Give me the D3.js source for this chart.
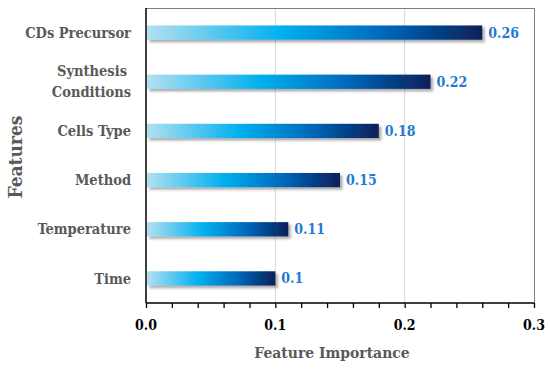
<!DOCTYPE html>
<html>
<head>
<meta charset="utf-8">
<script src="https://cdn.jsdelivr.net/npm/d3@7"></script>
<style>
  body { margin: 0; background: #fff; }
  text { font-family: "Palatino Linotype", "Book Antiqua", Palatino, "DejaVu Serif Condensed", "DejaVu Serif", serif; font-weight: bold; }
</style>
</head>
<body>
<div id="chart"></div>
<script>
// Data
var features = ["CDs Precursor", "Synthesis Conditions", "Cells Type", "Method", "Temperature", "Time"];
var importance = [0.26, 0.22, 0.18, 0.15, 0.11, 0.1];
var valueLabels = ["0.26", "0.22", "0.18", "0.15", "0.11", "0.1"];
var xTicks = [0, 0.1, 0.2, 0.3];
var xTickLabels = ["0.0", "0.1", "0.2", "0.3"];

var width = 550, height = 371;
var margin = {top: 8, right: 16, bottom: 68, left: 146};

var svg = d3.select("#chart")
  .append("svg")
  .attr("width", width)
  .attr("height", height);

var defs = svg.append("defs");

// Bar gradient, light cyan to navy
var grad = defs.append("linearGradient")
  .attr("id", "barGrad")
  .attr("x1", "0%").attr("x2", "100%")
  .attr("y1", "0%").attr("y2", "0%");
grad.append("stop").attr("offset", "0%").attr("stop-color", "#b3e0f0");
grad.append("stop").attr("offset", "40%").attr("stop-color", "#00b0f0");
grad.append("stop").attr("offset", "72%").attr("stop-color", "#0065b8");
grad.append("stop").attr("offset", "100%").attr("stop-color", "#0a1f58");

// Drop shadow
var filt = defs.append("filter")
  .attr("id", "shadow")
  .attr("x", "-10%").attr("y", "-40%")
  .attr("width", "130%").attr("height", "200%");
filt.append("feDropShadow")
  .attr("dx", 2.5).attr("dy", 2.5)
  .attr("stdDeviation", 1.3)
  .attr("flood-color", "#333")
  .attr("flood-opacity", 0.4);

var x = d3.scaleLinear()
  .domain([0, 0.3])
  .range([margin.left, width - margin.right]);

var y = d3.scaleBand()
  .domain(features)
  .range([margin.top, height - margin.bottom])
  .paddingInner(0.71)
  .paddingOuter(0.355);

// Grid lines
svg.append("g")
  .selectAll("line")
  .data([0.1, 0.2])
  .enter()
  .append("line")
  .attr("x1", function(d) { return x(d); })
  .attr("x2", function(d) { return x(d); })
  .attr("y1", margin.top)
  .attr("y2", height - margin.bottom)
  .attr("stroke", "#d9d9d9")
  .attr("stroke-width", 1);

// Top and right border (grey)
svg.append("path")
  .attr("d", "M" + x(0) + "," + (margin.top + 0.5) + "H" + (x(0.3) + 0.5) + "V" + (height - margin.bottom))
  .attr("fill", "none")
  .attr("stroke", "#7f7f7f")
  .attr("stroke-width", 1);

// Bars
svg.append("g")
  .selectAll("rect")
  .data(features)
  .enter()
  .append("rect")
  .attr("x", x(0) + 1)
  .attr("y", function(d) { return y(d); })
  .attr("width", function(d, i) { return x(importance[i]) - x(0) - 1; })
  .attr("height", y.bandwidth())
  .attr("fill", "url(#barGrad)")
  .attr("filter", "url(#shadow)");

// Value labels
svg.append("g")
  .selectAll("text")
  .data(features)
  .enter()
  .append("text")
  .attr("x", function(d, i) { return x(importance[i]) + 6; })
  .attr("y", function(d) { return y(d) + y.bandwidth() / 2; })
  .attr("dy", "0.36em")
  .attr("fill", "#1f7ad2")
  .attr("font-size", 14)
  .text(function(d, i) { return valueLabels[i]; });

// X axis with minor ticks
var xAxis = svg.append("g")
  .attr("transform", "translate(0," + (height - margin.bottom) + ")")
  .call(d3.axisBottom(x).tickValues(d3.range(0, 0.3001, 0.02)).tickSize(5).tickFormat(""));
xAxis.select(".domain").attr("stroke", "#000").attr("stroke-width", 1.5)
  .attr("d", "M" + x(0) + ",0H" + x(0.3));
xAxis.selectAll(".tick line").attr("stroke", "#000").attr("stroke-width", 1.3);

svg.append("g")
  .selectAll("text")
  .data(xTicks)
  .enter()
  .append("text")
  .attr("x", function(d) { return x(d); })
  .attr("y", height - margin.bottom + 22)
  .attr("dy", "0.35em")
  .attr("text-anchor", "middle")
  .attr("fill", "#000")
  .attr("font-size", 14)
  .text(function(d, i) { return xTickLabels[i]; });

// Y axis line
svg.append("line")
  .attr("x1", x(0)).attr("x2", x(0))
  .attr("y1", margin.top)
  .attr("y2", height - margin.bottom)
  .attr("stroke", "#000")
  .attr("stroke-width", 1.5);

// Category labels (wrap the long one)
var catLines = {"Synthesis Conditions": ["Synthesis", "Conditions"]};
var cats = svg.append("g")
  .selectAll("text")
  .data(features)
  .enter()
  .append("text")
  .attr("text-anchor", "end")
  .attr("fill", "#595959")
  .attr("font-size", 14.5);
cats.each(function(d) {
  var t = d3.select(this);
  var cy = y(d) + y.bandwidth() / 2;
  var lines = catLines[d] || [d];
  var lh = 21;
  lines.forEach(function(s, k) {
    t.append("tspan")
      .attr("x", x(0) - 15 - (lines.length > 1 && k == 0 ? 4 : 0))
      .attr("y", cy + (k - (lines.length - 1) / 2) * lh)
      .attr("dy", "0.36em")
      .text(s);
  });
});

// Axis titles
svg.append("text")
  .attr("x", 332)
  .attr("y", 353)
  .attr("dy", "0.35em")
  .attr("text-anchor", "middle")
  .attr("fill", "#595959")
  .attr("font-size", 15.5)
  .text("Feature Importance");

svg.append("text")
  .attr("transform", "translate(15,157) rotate(-90)")
  .attr("dy", "0.35em")
  .attr("text-anchor", "middle")
  .attr("fill", "#595959")
  .attr("font-size", 19)
  .text("Features");
</script>
</body>
</html>
